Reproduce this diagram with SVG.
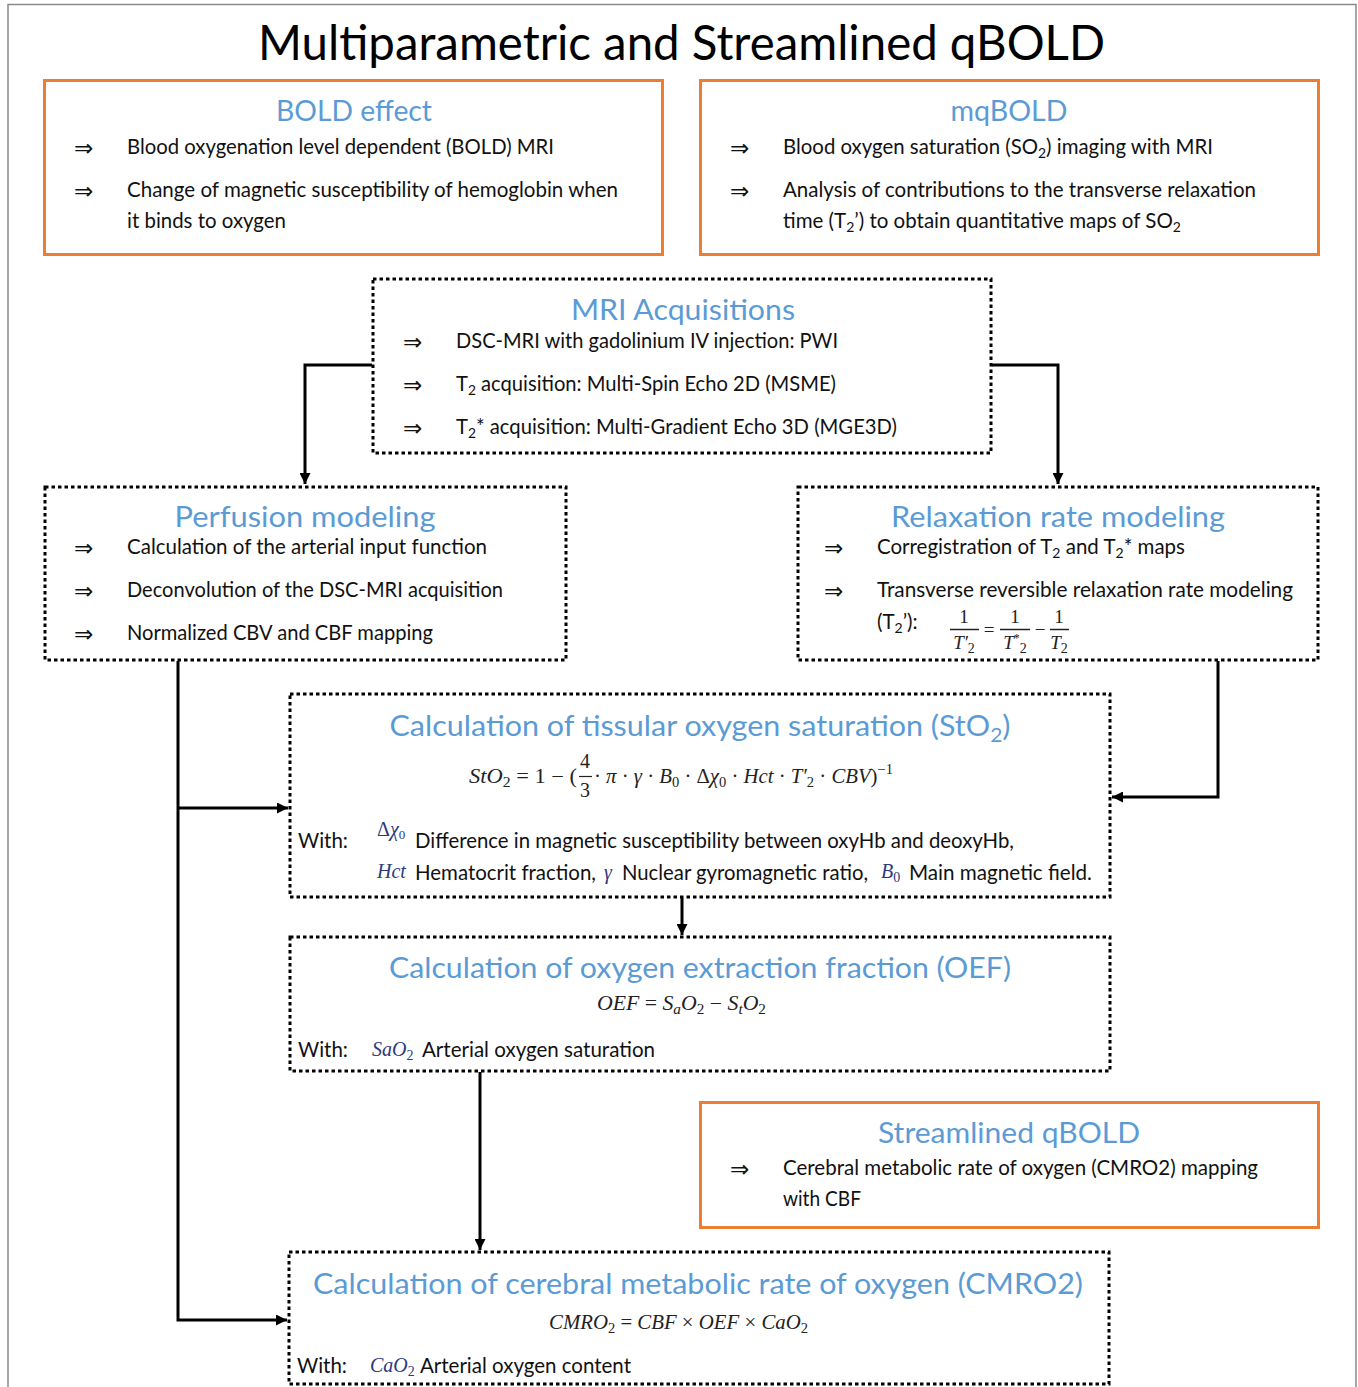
<svg xmlns="http://www.w3.org/2000/svg" width="1358" height="1387" viewBox="0 0 1358 1387">
<style>
.frame{fill:#fff;stroke:#8a8a8a;stroke-width:1.5}
.obox{fill:#fff;stroke:#ED7D31;stroke-width:3}
.dbox{fill:#fff;stroke:#000;stroke-width:3;stroke-dasharray:3.5 3}
.title{font-family:Lato,"Open Sans",sans-serif;font-size:48px;fill:#000}
.head{font-family:Lato,"Open Sans",sans-serif;font-size:29px;fill:#5B9BD5;text-anchor:middle}
.body{font-family:Lato,"Open Sans",sans-serif;font-size:20.5px;fill:#111}
.arr{font-family:"DejaVu Sans",sans-serif;font-size:23px;fill:#111}
.math{font-family:"Liberation Serif","DejaVu Serif",serif;font-style:italic;font-size:20px;fill:#222}
.mup{font-family:"Liberation Serif","DejaVu Serif",serif;font-size:20px;fill:#222}
.sym{font-family:"Liberation Serif","DejaVu Serif",serif;font-style:italic;font-size:20px;fill:#2b3a80}
.conn{fill:none;stroke:#000;stroke-width:3}
</style>
<defs>
<marker id="ah" viewBox="0 0 10 10" refX="10" refY="5" markerWidth="11" markerHeight="11" markerUnits="userSpaceOnUse" orient="auto">
<path d="M0,0 L10,5 L0,10 z" fill="#000"/>
</marker>
</defs>
<rect class="frame" x="8" y="4.5" width="1348" height="1400"/>
<text class="title" x="258" y="60" textLength="847" lengthAdjust="spacingAndGlyphs">Multiparametric and Streamlined qBOLD</text>

<g id="bold-effect">
<rect class="obox" x="44.5" y="80.5" width="618" height="174"/>
<text class="head" x="354" y="121" textLength="156" lengthAdjust="spacingAndGlyphs">BOLD effect</text>
<text class="arr" x="74" y="156">⇒</text>
<text class="body" x="127" y="154" textLength="427" lengthAdjust="spacingAndGlyphs">Blood oxygenation level dependent (BOLD) MRI</text>
<text class="arr" x="74" y="199">⇒</text>
<text class="body" x="127" y="197" textLength="491" lengthAdjust="spacingAndGlyphs">Change of magnetic susceptibility of hemoglobin when</text>
<text class="body" x="127" y="228" textLength="159" lengthAdjust="spacingAndGlyphs">it binds to oxygen</text>
</g>

<g id="mqbold">
<rect class="obox" x="700.5" y="80.5" width="618" height="174"/>
<text class="head" x="1009" y="121" textLength="117" lengthAdjust="spacingAndGlyphs">mqBOLD</text>
<text class="arr" x="730" y="156">⇒</text>
<text class="body" x="783" y="154" textLength="430" lengthAdjust="spacingAndGlyphs">Blood oxygen saturation (SO<tspan font-size="14" dy="4">2</tspan><tspan dy="-4">) imaging with MRI</tspan></text>
<text class="arr" x="730" y="199">⇒</text>
<text class="body" x="783" y="197" textLength="473" lengthAdjust="spacingAndGlyphs">Analysis of contributions to the transverse relaxation</text>
<text class="body" x="783" y="228" textLength="398" lengthAdjust="spacingAndGlyphs">time (T<tspan font-size="14" dy="4">2</tspan><tspan dy="-4">’) to obtain quantitative maps of SO</tspan><tspan font-size="14" dy="4">2</tspan></text>
</g>

<g id="mri-acquisitions">
<rect class="dbox" x="373" y="279" width="618" height="174"/>
<text class="head" x="683" y="320" textLength="224" lengthAdjust="spacingAndGlyphs">MRI Acquisitions</text>
<text class="arr" x="403" y="350">⇒</text>
<text class="body" x="456" y="348" textLength="382" lengthAdjust="spacingAndGlyphs">DSC-MRI with gadolinium IV injection: PWI</text>
<text class="arr" x="403" y="393">⇒</text>
<text class="body" x="456" y="391" textLength="380" lengthAdjust="spacingAndGlyphs">T<tspan font-size="14" dy="4">2</tspan><tspan dy="-4"> acquisition: Multi-Spin Echo 2D (MSME)</tspan></text>
<text class="arr" x="403" y="436">⇒</text>
<text class="body" x="456" y="434" textLength="441" lengthAdjust="spacingAndGlyphs">T<tspan font-size="14" dy="4">2</tspan><tspan dy="-4">* acquisition: Multi-Gradient Echo 3D (MGE3D)</tspan></text>
</g>

<g id="perfusion-modeling">
<rect class="dbox" x="45" y="487" width="521" height="173"/>
<text class="head" x="305" y="527" textLength="261" lengthAdjust="spacingAndGlyphs">Perfusion modeling</text>
<text class="arr" x="74" y="556">⇒</text>
<text class="body" x="127" y="554" textLength="360" lengthAdjust="spacingAndGlyphs">Calculation of the arterial input function</text>
<text class="arr" x="74" y="599">⇒</text>
<text class="body" x="127" y="597" textLength="376" lengthAdjust="spacingAndGlyphs">Deconvolution of the DSC-MRI acquisition</text>
<text class="arr" x="74" y="642">⇒</text>
<text class="body" x="127" y="640" textLength="306" lengthAdjust="spacingAndGlyphs">Normalized CBV and CBF mapping</text>
</g>

<g id="relaxation-rate-modeling">
<rect class="dbox" x="798" y="487" width="520" height="173"/>
<text class="head" x="1058" y="527" textLength="334" lengthAdjust="spacingAndGlyphs">Relaxation rate modeling</text>
<text class="arr" x="824" y="556">⇒</text>
<text class="body" x="877" y="554" textLength="308" lengthAdjust="spacingAndGlyphs">Corregistration of T<tspan font-size="14" dy="4">2</tspan><tspan dy="-4"> and T</tspan><tspan font-size="14" dy="4">2</tspan><tspan dy="-4">* maps</tspan></text>
<text class="arr" x="824" y="599">⇒</text>
<text class="body" x="877" y="597" textLength="416" lengthAdjust="spacingAndGlyphs">Transverse reversible relaxation rate modeling</text>
<text class="body" x="877" y="629">(T<tspan font-size="14" dy="4">2</tspan><tspan dy="-4">’):</tspan></text>
<g font-family="Liberation Serif, DejaVu Serif, serif" font-size="19" fill="#222" text-anchor="middle">
<text x="964" y="623">1</text>
<text x="964" y="649" font-style="italic">T′<tspan font-size="14" dy="4" font-style="normal">2</tspan></text>
<text x="989" y="636">=</text>
<text x="1015" y="623">1</text>
<text x="1015" y="649" font-style="italic">T<tspan font-size="12" dy="-7" font-style="normal">*</tspan><tspan font-size="14" dy="11" font-style="normal">2</tspan></text>
<text x="1040" y="636">−</text>
<text x="1059" y="623">1</text>
<text x="1059" y="649" font-style="italic">T<tspan font-size="14" dy="4" font-style="normal">2</tspan></text>
</g>
<path d="M950,629.5 H979 M1000,629.5 H1030 M1050,629.5 H1069" stroke="#222" stroke-width="1.3"/>
</g>

<g id="sto2">
<rect class="dbox" x="290" y="694" width="820" height="203"/>
<text class="head" x="700" y="736" textLength="621" lengthAdjust="spacingAndGlyphs">Calculation of tissular oxygen saturation (StO<tspan font-size="20" dy="6">2</tspan><tspan dy="-6">)</tspan></text>
<text class="math" x="469" y="783" textLength="108" lengthAdjust="spacingAndGlyphs">StO<tspan font-size="14" dy="4" font-style="normal">2</tspan><tspan dy="-4" font-style="normal"> = 1 − (</tspan></text>
<text class="mup" x="585" y="768" text-anchor="middle" font-size="18">4</text>
<text class="mup" x="585" y="797" text-anchor="middle" font-size="18">3</text>
<path d="M579,776.5 H592" stroke="#222" stroke-width="1.2"/>
<text class="math" x="594" y="783" textLength="299" lengthAdjust="spacingAndGlyphs"><tspan font-style="normal">·</tspan> π <tspan font-style="normal">·</tspan> γ <tspan font-style="normal">·</tspan> B<tspan font-size="14" dy="4" font-style="normal">0</tspan><tspan dy="-4" font-style="normal"> · Δ</tspan>χ<tspan font-size="14" dy="4" font-style="normal">0</tspan><tspan dy="-4" font-style="normal"> · </tspan>Hct <tspan font-style="normal">·</tspan> T′<tspan font-size="14" dy="4" font-style="normal">2</tspan><tspan dy="-4" font-style="normal"> · </tspan>CBV<tspan font-style="normal">)</tspan><tspan font-size="14" dy="-9" font-style="normal">−1</tspan></text>
<text class="body" x="298" y="848">With:</text>
<text class="sym" x="377" y="836" font-size="18"><tspan font-style="normal">Δ</tspan>χ<tspan font-size="13" dy="3" font-style="normal">0</tspan></text>
<text class="body" x="415" y="848" textLength="599" lengthAdjust="spacingAndGlyphs">Difference in magnetic susceptibility between oxyHb and deoxyHb,</text>
<text class="sym" x="377" y="878">Hct</text>
<text class="body" x="415" y="880" textLength="181" lengthAdjust="spacingAndGlyphs">Hematocrit fraction,</text>
<text class="sym" x="604" y="879">γ</text>
<text class="body" x="622" y="880" textLength="246" lengthAdjust="spacingAndGlyphs">Nuclear gyromagnetic ratio,</text>
<text class="sym" x="881" y="878">B<tspan font-size="14" dy="4" font-style="normal">0</tspan></text>
<text class="body" x="909" y="880" textLength="183" lengthAdjust="spacingAndGlyphs">Main magnetic field.</text>
</g>

<g id="oef">
<rect class="dbox" x="290" y="937" width="820" height="134"/>
<text class="head" x="700" y="978" textLength="622" lengthAdjust="spacingAndGlyphs">Calculation of oxygen extraction fraction (OEF)</text>
<text class="math" x="597" y="1010" textLength="169" lengthAdjust="spacingAndGlyphs">OEF <tspan font-style="normal">=</tspan> S<tspan font-size="14" dy="4">a</tspan><tspan dy="-4">O</tspan><tspan font-size="14" dy="4" font-style="normal">2</tspan><tspan dy="-4" font-style="normal"> − </tspan>S<tspan font-size="14" dy="4">t</tspan><tspan dy="-4">O</tspan><tspan font-size="14" dy="4" font-style="normal">2</tspan></text>
<text class="body" x="298" y="1057">With:</text>
<text class="sym" x="372" y="1056">SaO<tspan font-size="14" dy="4" font-style="normal">2</tspan></text>
<text class="body" x="422" y="1057" textLength="233" lengthAdjust="spacingAndGlyphs">Arterial oxygen saturation</text>
</g>

<g id="streamlined-qbold">
<rect class="obox" x="700.5" y="1102.5" width="618" height="125"/>
<text class="head" x="1009" y="1143" textLength="262" lengthAdjust="spacingAndGlyphs">Streamlined qBOLD</text>
<text class="arr" x="730" y="1177">⇒</text>
<text class="body" x="783" y="1175" textLength="475" lengthAdjust="spacingAndGlyphs">Cerebral metabolic rate of oxygen (CMRO2) mapping</text>
<text class="body" x="783" y="1206" textLength="78" lengthAdjust="spacingAndGlyphs">with CBF</text>
</g>

<g id="cmro2">
<rect class="dbox" x="289" y="1252" width="820" height="132"/>
<text class="head" x="698" y="1294" textLength="770" lengthAdjust="spacingAndGlyphs">Calculation of cerebral metabolic rate of oxygen (CMRO2)</text>
<text class="math" x="549" y="1329" textLength="259" lengthAdjust="spacingAndGlyphs">CMRO<tspan font-size="14" dy="4" font-style="normal">2</tspan><tspan dy="-4" font-style="normal"> = </tspan>CBF <tspan font-style="normal">×</tspan> OEF <tspan font-style="normal">×</tspan> CaO<tspan font-size="14" dy="4" font-style="normal">2</tspan></text>
<text class="body" x="297" y="1373">With:</text>
<text class="sym" x="370" y="1372">CaO<tspan font-size="14" dy="4" font-style="normal">2</tspan></text>
<text class="body" x="420" y="1373" textLength="211" lengthAdjust="spacingAndGlyphs">Arterial oxygen content</text>
</g>

<g id="connectors">
<path class="conn" d="M372,365 H305 V484" marker-end="url(#ah)"/>
<path class="conn" d="M992,365 H1058 V484" marker-end="url(#ah)"/>
<path class="conn" d="M178,661 V1320 H287" marker-end="url(#ah)"/>
<path class="conn" d="M178,808 H288" marker-end="url(#ah)"/>
<path class="conn" d="M1218,661 V797 H1112" marker-end="url(#ah)"/>
<path class="conn" d="M682,898 V935" marker-end="url(#ah)"/>
<path class="conn" d="M480,1072 V1250" marker-end="url(#ah)"/>
</g>
</svg>
